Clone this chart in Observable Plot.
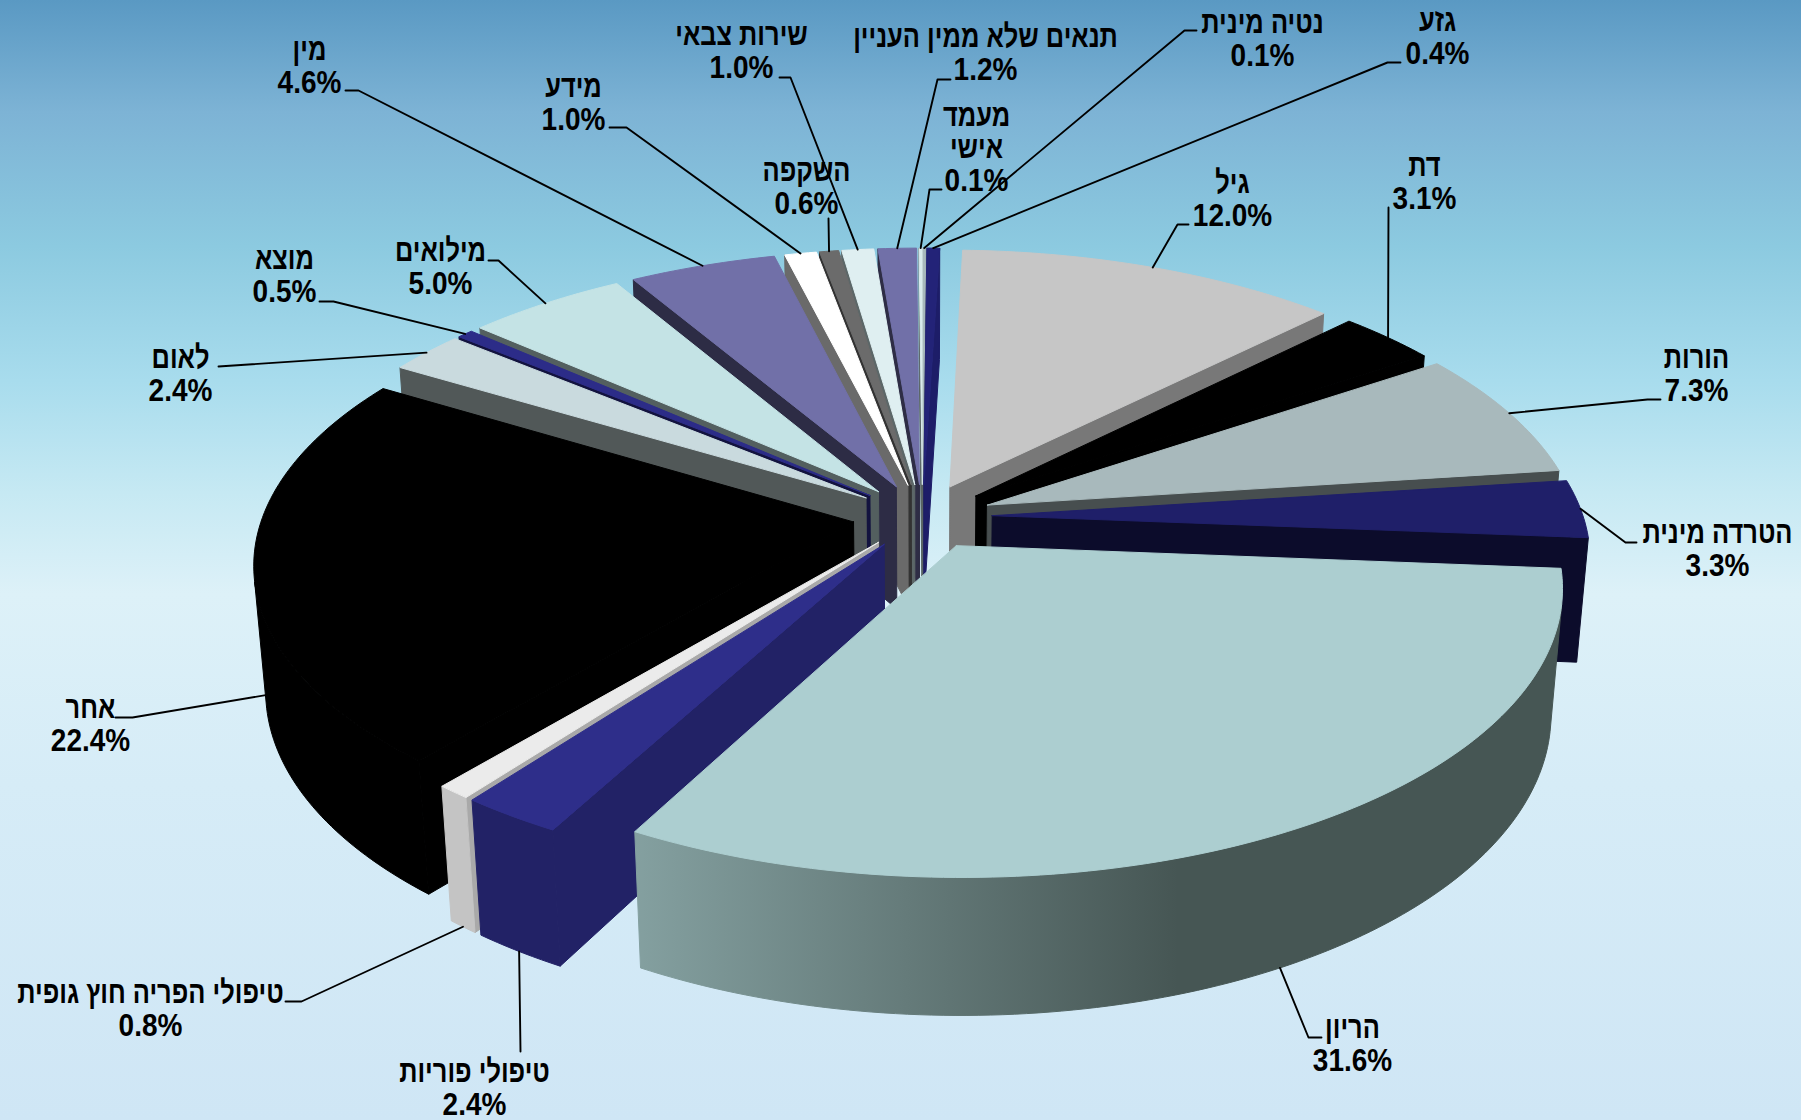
<!DOCTYPE html>
<html lang="he">
<head>
<meta charset="utf-8">
<title>עילות</title>
<style>
  html, body { margin: 0; padding: 0; overflow: hidden; background: #cfe6f5; }
</style>
<script src="https://cdn.jsdelivr.net/npm/d3@7"></script>
<script src="https://cdn.jsdelivr.net/npm/@observablehq/plot@0.6"></script>
</head>
<body>
<div id="chart"></div>
<script>
// Categories and their shares, clockwise from the top of the pie
const names = ["גיל", "דת", "הורות", "הטרדה מינית", "הריון", "טיפולי פוריות", "טיפולי הפריה חוץ גופית", "אחר", "לאום", "מוצא", "מילואים", "מין", "מידע", "השקפה", "שירות צבאי", "תנאים שלא ממין העניין", "מעמד\nאישי", "נטיה מינית", "גזע"];
const values = [12.0, 3.1, 7.3, 3.3, 31.6, 2.4, 0.8, 22.4, 2.4, 0.5, 5.0, 4.6, 1.0, 0.6, 1.0, 1.2, 0.1, 0.1, 0.4];

// Face colours of each slice
const topColors = ["#c6c6c6", "#000000", "#a8b9bc", "#1f1f69", "#acced0", "#2e2e8a", "#ebebeb", "#000000", "#c9dade", "#2c2c88", "#c4e3e5", "#7170a8", "#ffffff", "#6b6b6b", "#dfeff1", "#7170a8", "#d8eaec", "#a8b9bc", "#232378"];
const sideColors = ["#787878", "#000000", "#474e4f", "#0c0c2b", "#465654", "#222266", "#a9a9a9", "#000000", "#515858", "#13133f", "#535f5f", "#2d2c45", "#6a6a6a", "#333333", "#5c6768", "#2e2d45", "#5a6565", "#474e4f", "#1d1d68"];
const rimColors = ["#787878", "#000000", "#474e4f", "#0c0c2b", "url(#curved-wall)", "#222266", "#c4c4c4", "#000000", "#515858", "#13133f", "#535f5f", "#2d2c45", "#6a6a6a", "#333333", "#5c6768", "#2e2d45", "#5a6565", "#474e4f", "#1d1d68"];
const shadedSlice = 4;
const shadeLight = "#84a0a0";
const shadeDark = "#465654";

// Label anchors (the seam between name and value) and leader bends running out to them
const labelX = [1232, 1424, 1696, 1717, 1352, 474, 150, 90, 180, 284, 440, 309, 573, 806, 741, 985, 976, 1262, 1437];
const labelY = [199, 182, 374, 549, 1044, 1088, 1009, 724, 374, 275, 267, 66, 103, 187, 51, 53, 164, 39, 37];
const leaderBends = [
  [[1177, 224], [1188, 224]],
  [[1388, 207]],
  [[1647, 399], [1660, 399]],
  [[1625, 542], [1636, 542]],
  [[1308, 1037], [1321, 1037]],
  [[520, 1051]],
  [[301, 1001], [285, 1001]],
  [[132, 717], [115, 717]],
  [[218, 366]],
  [[333, 301], [319, 301]],
  [[498, 260], [488, 260]],
  [[358, 90], [345, 90]],
  [[626, 127], [609, 127]],
  [[828, 218]],
  [[790, 77], [779, 77]],
  [[937, 79], [950, 79]],
  [[929, 189], [941, 189]],
  [[1184, 30], [1196, 30]],
  [[1387, 62], [1400, 62]]
];

// Camera and pie proportions
const view = {cx: 922, cy: 516, scale: 591, dist: 6.39, sin: 0.469, cos: 0.883, explode: 0.118, depth: 0.241, start: 1.8 * Math.PI / 180};

function project(X, Y, Z) {
  const D = view.dist - view.cos * Y - view.sin * Z;
  const k = view.scale * view.dist / D;
  return [view.cx + k * X, view.cy + k * (view.sin * Y - view.cos * Z)];
}

// True when a wall with outward normal (nx, ny) looks toward the camera
const facesCamera = (nx, ny, px, py) => nx * (0 - px) + ny * (view.dist * view.cos - py) > 0;

const total = d3.sum(values);
const polys = [];
const leaders = [];
const slices = [];
let running = 0;
values.forEach((v, i) => {
  const a0 = view.start + running / total * 2 * Math.PI;
  running += v;
  const a1 = view.start + running / total * 2 * Math.PI;
  slices.push({i, a0, a1, mid: (a0 + a1) / 2});
});

const addPoly = (id, fill, pts) => {
  [...pts, pts[0]].forEach(([x, y], k) => polys.push({id, fill, x, y, k}));
};

let shadeFrom = 0, shadeTo = 1;

// Back slices first so nearer ones paint over them
[...slices].sort((p, q) => Math.cos(q.mid) - Math.cos(p.mid)).forEach(({i, a0, a1, mid}) => {
  const ox = view.explode * Math.sin(mid);
  const oy = -view.explode * Math.cos(mid);
  const rim = (a) => [ox + Math.sin(a), oy - Math.cos(a)];
  const steps = Math.max(2, Math.ceil((a1 - a0) / (Math.PI / 180)));
  const angles = d3.range(steps + 1).map((k) => a0 + (a1 - a0) * k / steps);

  // radial walls
  const wall = (a, sign, tag) => {
    const nx = sign * Math.cos(a), ny = sign * Math.sin(a);
    if (!facesCamera(nx, ny, ox, oy)) return;
    const [rx, ry] = rim(a);
    addPoly(`${i}-${tag}`, sideColors[i], [project(ox, oy, 0), project(rx, ry, 0), project(rx, ry, -view.depth), project(ox, oy, -view.depth)]);
  };
  wall(a0, -1, "a");
  wall(a1, 1, "b");

  // curved outer wall: the run of arc steps that look toward the camera
  const seen = angles.filter((a) => {
    const [mx, my] = rim(a);
    return facesCamera(Math.sin(a), -Math.cos(a), mx, my);
  });
  if (seen.length > 1) {
    addPoly(`${i}-r`, rimColors[i], [
      ...seen.map((a) => project(...rim(a), 0)),
      ...[...seen].reverse().map((a) => project(...rim(a), -view.depth))
    ]);
  }
  if (i === shadedSlice) {
    shadeFrom = project(...rim(a1), 0)[0];
    shadeTo = project(...rim(a0 + (a1 - a0) * 0.59), 0)[0];
  }

  // top face
  addPoly(`${i}-t`, topColors[i], [project(ox, oy, 0), ...angles.map((a) => project(...rim(a), 0))]);

  // leader, anchored at the slice's rim midpoint
  const [lx, ly] = rim(mid);
  const start = project(lx, ly, Math.cos(mid) < 0 ? -view.depth : 0);
  [start, ...leaderBends[i]].forEach(([x, y], k) => leaders.push({i, x, y, k}));
});

const labels = names.map((name, i) => ({
  name,
  share: `${values[i].toFixed(1)}%`,
  x: labelX[i],
  y: labelY[i]
}));

// Horizontal condensing of a text mark around each label's own anchor
const condensed = (factor) => (index, scales, channels, dimensions, context, next) => {
  const g = next(index, scales, channels, dimensions, context);
  d3.select(g).selectAll("text").attr("transform", function () {
    return `${this.getAttribute("transform") || ""} scale(${factor},1)`;
  });
  return g;
};

const wallGradient = () => {
  const g = d3.create("svg:g");
  const grad = g.append("defs").append("linearGradient")
    .attr("id", "curved-wall")
    .attr("gradientUnits", "userSpaceOnUse")
    .attr("x1", shadeFrom).attr("x2", shadeTo).attr("y1", 0).attr("y2", 0);
  grad.append("stop").attr("offset", 0).attr("stop-color", shadeLight);
  grad.append("stop").attr("offset", 1).attr("stop-color", shadeDark);
  return g.node();
};

const labelFont = {
  x: "x",
  y: "y",
  fontFamily: "'Liberation Sans', Arial, sans-serif",
  fontWeight: "bold",
  fontSize: 32,
  lineHeight: 0.97,
  fill: "#000000",
  textAnchor: "middle"
};

const chart = Plot.plot({
  width: 1801,
  height: 1120,
  margin: 0,
  x: {domain: [0, 1801], range: [0, 1801], axis: null},
  y: {domain: [0, 1120], range: [0, 1120], axis: null},
  color: {type: "identity"},
  style: {
    background: "linear-gradient(180deg, #5a99c3 0%, #7db3d5 10%, #8ccae0 22%, #a8dced 34%, #c6e9f3 44%, #ddf1f8 53%, #d6ecf7 70%, #cfe6f5 100%)",
    display: "block"
  },
  marks: [
    wallGradient,
    Plot.line(polys, {x: "x", y: "y", z: "id", fill: "fill", stroke: "fill", strokeWidth: 1, curve: "linear"}),
    Plot.line(leaders, {x: "x", y: "y", z: "i", stroke: "#000000", strokeWidth: 1.9, curve: "linear"}),
    Plot.text(labels, {...labelFont, text: "name", lineAnchor: "bottom", dy: -7, render: condensed(0.795)}),
    Plot.text(labels, {...labelFont, text: "share", lineAnchor: "top", dy: 4, render: condensed(0.875)})
  ]
});
document.getElementById("chart").append(chart);
</script>
</body>
</html>
